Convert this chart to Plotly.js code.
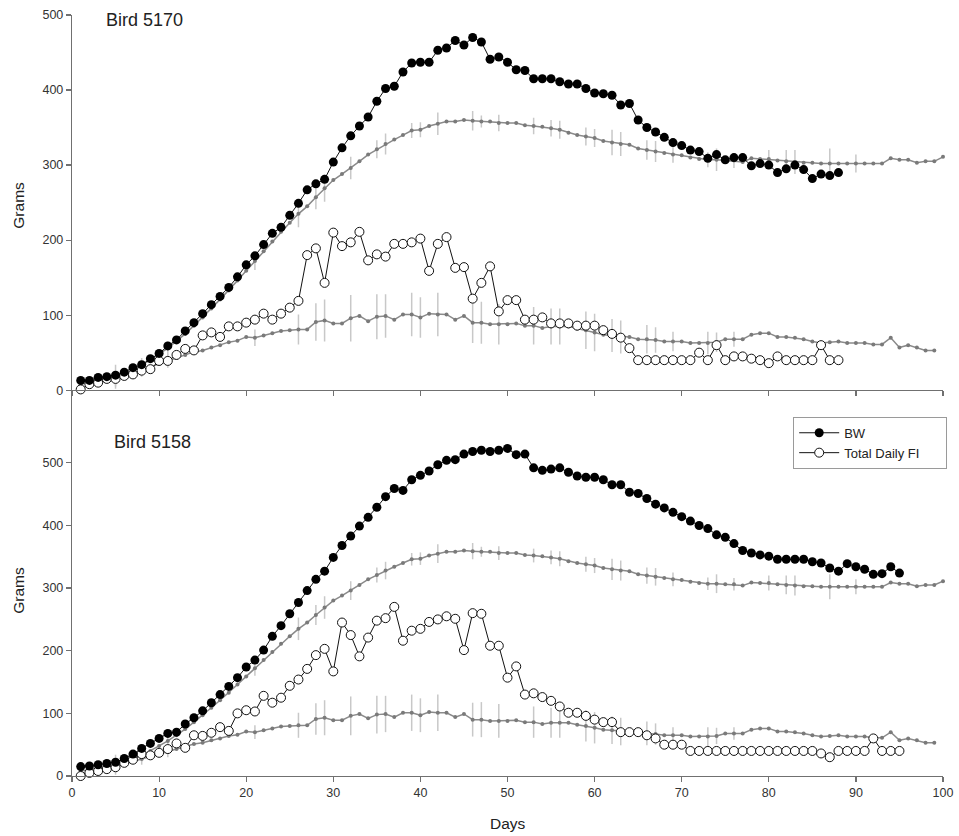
<!DOCTYPE html>
<html>
<head>
<meta charset="utf-8">
<script src="https://cdn.plot.ly/plotly-3.0.1.min.js"></script>
<style>
  html, body { margin: 0; padding: 0; background: #fff; }
  #chart { width: 959px; height: 836px; }
</style>
</head>
<body>
<div id="chart"></div>
<script>
// ---- Data ----
const days = [1,2,3,4,5,6,7,8,9,10,11,12,13,14,15,16,17,18,19,20,21,22,23,24,25,26,27,28,29,30,
  31,32,33,34,35,36,37,38,39,40,41,42,43,44,45,46,47,48,49,50,51,52,53,54,55,56,57,58,59,60,
  61,62,63,64,65,66,67,68,69,70,71,72,73,74,75,76,77,78,79,80,81,82,83,84,85,86,87,88,89,90,
  91,92,93,94,95,96,97,98,99,100];

// Reference group mean BW (gray, days 1-100)
const meanBW = [8,10,12,15,18,22,27,33,40,48,56,65,75,86,97,109,121,133,146,159,
  172,185,198,211,223,235,245,257,269,280,288,296,305,314,321,328,334,340,346,347,
  352,355,358,358,360,359,358,358,356,356,356,353,352,351,349,347,343,340,338,336,
  332,330,328,327,322,320,318,316,314,313,310,308,307,307,306,306,304,309,308,308,
  306,305,304,303,303,302,302,302,302,302,302,302,302,309,307,307,303,305,305,311];

// Reference group mean daily FI (gray, days 1-99)
const meanFI = [3,6,9,12,15,19,23,27,31,35,39,43,47,51,53,57,60,64,66,71,
  70,73,76,79,80,81,81,91,93,89,89,96,99,92,98,99,94,101,101,97,
  102,101,101,94,99,90,90,88,88,88,89,86,86,83,85,85,85,82,80,77,
  74,73,71,71,68,68,67,65,65,65,63,63,63,64,68,68,68,74,76,76,
  71,71,70,68,65,63,64,65,63,63,63,61,61,70,57,60,57,53,53];

// Days with error bars and their half-lengths (grams)
const errDays = [5,8,11,21,26,28,29,32,35,36,39,40,42,46,47,49,53,55,56,59,60,62,63,66,67,69,73,74,76,80,82,83,87,90];
const errBW   = [16,10,9,12,18,16,18,15,12,14,10,10,15,13,8,11,11,11,12,12,12,17,16,13,14,11,10,15,10,12,15,16,20,12];
const errFI   = [10,9,9,11,20,25,28,31,30,29,29,27,29,27,28,27,25,24,24,25,25,22,22,19,17,13,15,13,10,0,0,0,0,0];

// Bird 5170 (top panel)
const bw5170 = [13,13,17,18,20,24,30,34,42,49,59,67,79,90,102,114,125,137,151,167,
  179,194,209,217,233,249,267,275,281,304,323,339,352,364,385,402,405,424,436,437,
  437,453,456,466,460,470,464,441,444,437,427,426,415,415,415,411,408,408,402,396,
  395,393,380,382,360,350,344,337,330,326,320,318,309,314,307,310,310,299,302,300,
  290,295,300,294,282,288,286,290];
const fi5170 = [1,8,10,15,15,19,21,26,28,39,39,47,55,53,73,77,71,85,85,90,
  94,102,94,102,110,119,180,189,143,210,192,197,211,173,181,178,195,195,197,202,
  159,195,204,163,164,122,143,165,105,120,120,94,94,97,89,89,89,86,86,86,
  80,75,70,56,40,40,40,40,40,40,40,50,40,60,40,45,45,42,40,36,
  45,40,40,40,40,60,40,40];

// Bird 5158 (bottom panel)
const bw5158 = [15,16,18,20,22,28,35,44,52,60,68,70,83,93,104,117,130,143,157,174,
  185,201,223,240,259,277,296,314,327,349,368,383,399,413,429,446,459,456,473,480,
  487,497,504,505,514,518,520,518,520,523,513,514,492,488,490,492,485,479,477,477,
  473,465,465,453,451,443,434,428,421,414,407,400,395,385,381,371,360,356,353,351,
  346,346,346,346,342,340,332,327,339,334,330,322,323,334,324];
const fi5158 = [0,5,8,11,14,21,26,35,33,37,43,52,45,65,64,69,78,72,100,105,
  103,128,117,125,144,154,171,193,203,167,245,225,191,221,248,252,270,216,232,235,
  246,250,255,251,201,260,259,208,208,157,175,130,132,126,120,111,101,101,96,90,
  86,86,70,70,70,65,60,50,50,50,40,40,40,40,40,40,40,40,40,40,
  40,40,40,40,40,36,30,40,40,40,40,60,40,40,40];

const panelLabels = ['Bird 5170', 'Bird 5158'];
const seriesNames = ['BW', 'Total Daily FI'];
const yTitle = 'Grams';
const xTitle = 'Days';
const yTicks = [0,100,200,300,400,500];
const xTicks = [0,10,20,30,40,50,60,70,80,90,100];

// ---- Build ----
function errArray(n, vals) {
  const a = new Array(n).fill(0);
  errDays.forEach((d, i) => { if (d <= n) a[d-1] = vals[i]; });
  return a;
}

const FONT = 'Liberation Sans, Arial, Helvetica, sans-serif';
const grayLine = '#8a8a8a';
const grayDot = '#7a7a7a';
const errColor = '#c8c8c8';
const PAD = '\u00a0\u00a0\u00a0\u00a0\u00a0\u00a0';

function panelTraces(bw, fi, xa, ya, legend) {
  return [
    { x: days.slice(0, meanBW.length), y: meanBW, xaxis: xa, yaxis: ya, type: 'scatter', mode: 'lines+markers',
      line: {color: grayLine, width: 1.5}, marker: {color: grayDot, size: 4},
      error_y: {type: 'data', array: errArray(meanBW.length, errBW), visible: true, color: errColor, thickness: 1.5, width: 0},
      showlegend: false, cliponaxis: false, hoverinfo: 'skip' },
    { x: days.slice(0, meanFI.length), y: meanFI, xaxis: xa, yaxis: ya, type: 'scatter', mode: 'lines+markers',
      line: {color: grayLine, width: 1.5}, marker: {color: grayDot, size: 4},
      error_y: {type: 'data', array: errArray(meanFI.length, errFI), visible: true, color: errColor, thickness: 1.5, width: 0},
      showlegend: false, cliponaxis: false, hoverinfo: 'skip' },
    { x: days.slice(0, fi.length), y: fi, xaxis: xa, yaxis: ya, type: 'scatter', mode: 'lines+markers',
      name: seriesNames[1] + PAD, legendrank: 2,
      line: {color: '#111', width: 1}, marker: {color: '#fff', size: 9, line: {color: '#111', width: 1}},
      showlegend: legend, cliponaxis: false },
    { x: days.slice(0, bw.length), y: bw, xaxis: xa, yaxis: ya, type: 'scatter', mode: 'lines+markers',
      name: seriesNames[0], legendrank: 1,
      line: {color: '#111', width: 1}, marker: {color: '#000', size: 9, line: {color: '#000', width: 0}},
      showlegend: legend, cliponaxis: false }
  ];
}

const data = [].concat(
  panelTraces(bw5170, fi5170, 'x', 'y', false),
  panelTraces(bw5158, fi5158, 'x2', 'y2', true)
);

const axisCommon = {
  showgrid: false, zeroline: false, showline: true, linecolor: '#707070', linewidth: 1.2,
  ticks: 'outside', ticklen: 5, tickcolor: '#707070', tickwidth: 1.2,
  tickfont: {family: FONT, size: 12.5, color: '#333'}, automargin: false
};
const titleFont = {family: FONT, size: 15.5, color: '#222'};

const split = 0.507;

const layout = {
  width: 959, height: 836,
  margin: {l: 72, r: 16, t: 15, b: 60},
  paper_bgcolor: '#fff', plot_bgcolor: '#fff',
  font: {family: FONT, color: '#222'},
  showlegend: true,
  xaxis: Object.assign({}, axisCommon, {anchor: 'y', range: [0, 100], tickvals: xTicks, showticklabels: false}),
  yaxis: Object.assign({}, axisCommon, {anchor: 'x', domain: [split, 1], range: [0, 500], tickvals: yTicks}),
  xaxis2: Object.assign({}, axisCommon, {anchor: 'y2', range: [0, 100], tickvals: xTicks}),
  yaxis2: Object.assign({}, axisCommon, {anchor: 'x2', domain: [0, split], range: [0, 616], tickvals: yTicks}),
  legend: {x: 0.828, y: 0.472, xanchor: 'left', yanchor: 'top', bgcolor: '#fff',
    bordercolor: '#9a9a9a', borderwidth: 1, font: {family: FONT, size: 13, color: '#222'},
    traceorder: 'normal', itemwidth: 40},
  annotations: [
    {text: panelLabels[0], x: 3.7, y: 493, xref: 'x', yref: 'y', xanchor: 'left', yanchor: 'middle',
      showarrow: false, font: {family: FONT, size: 18, color: '#222'}},
    {text: panelLabels[1], x: 4.55, y: 533, xref: 'x2', yref: 'y2', xanchor: 'left', yanchor: 'middle',
      showarrow: false, font: {family: FONT, size: 18, color: '#222'}},
    {text: yTitle, textangle: -90, x: -0.0615, y: 0.750, xref: 'paper', yref: 'paper',
      xanchor: 'center', yanchor: 'middle', showarrow: false, font: titleFont},
    {text: yTitle, textangle: -90, x: -0.0615, y: 0.244, xref: 'paper', yref: 'paper',
      xanchor: 'center', yanchor: 'middle', showarrow: false, font: titleFont},
    {text: xTitle, x: 0.5, y: -0.0618, xref: 'paper', yref: 'paper',
      xanchor: 'center', yanchor: 'middle', showarrow: false, font: titleFont}
  ]
};

Plotly.newPlot('chart', data, layout, {displayModeBar: false, staticPlot: true});
</script>
</body>
</html>
